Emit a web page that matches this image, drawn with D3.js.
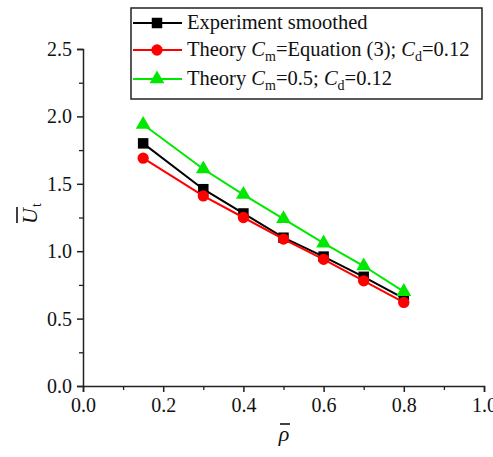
<!DOCTYPE html>
<html>
<head>
<meta charset="utf-8">
<script src="https://cdn.jsdelivr.net/npm/d3@7"></script>
<style>
body { margin: 0; background: #fff; }
svg text { font-family: "Liberation Serif", "Times New Roman", serif; fill: #111; }
</style>
</head>
<body>
<div id="chart"></div>
<script>
// data
var rho = [0.15, 0.3, 0.4, 0.5, 0.6, 0.7, 0.8];
var experiment = [1.80, 1.46, 1.28, 1.10, 0.96, 0.81, 0.65];
var theoryEq3 = [1.69, 1.41, 1.25, 1.09, 0.94, 0.78, 0.62];
var theoryHalf = [1.94, 1.61, 1.42, 1.24, 1.06, 0.89, 0.70];
var xTicks = [0, 0.2, 0.4, 0.6, 0.8, 1.0];
var yTicks = [0, 0.5, 1.0, 1.5, 2.0, 2.5];

var width = 493, height = 457;
var margin = { left: 83, right: 9, top: 49, bottom: 71 };
var serif = '"Liberation Serif", "Times New Roman", serif';

var svg = d3.select("#chart").append("svg")
    .attr("width", width)
    .attr("height", height);

var x = d3.scaleLinear().domain([0, 1]).range([margin.left, width - margin.right]);
var y = d3.scaleLinear().domain([0, 2.5]).range([height - margin.bottom, margin.top]);

// minor ticks
svg.append("g")
    .attr("transform", "translate(0," + y(0) + ")")
    .call(d3.axisBottom(x).tickValues(d3.range(0.1, 1, 0.2)).tickSize(4).tickFormat(""))
    .call(function (g) { g.select(".domain").remove(); })
    .selectAll("line").attr("stroke-width", 1.3).attr("stroke", "#222");
svg.append("g")
    .attr("transform", "translate(" + x(0) + ",0)")
    .call(d3.axisLeft(y).tickValues(d3.range(0.25, 2.5, 0.5)).tickSize(4).tickFormat(""))
    .call(function (g) { g.select(".domain").remove(); })
    .selectAll("line").attr("stroke-width", 1.3).attr("stroke", "#222");

// x axis
var xAxis = svg.append("g")
    .attr("transform", "translate(0," + y(0) + ")")
    .call(d3.axisBottom(x).tickValues(xTicks).tickSizeOuter(0).tickSize(6).tickPadding(6).tickFormat(d3.format(".1f")));
xAxis.attr("font-family", serif).attr("font-size", 20);
xAxis.select(".domain").attr("stroke-width", 1.5).attr("stroke", "#222");
xAxis.selectAll("line").attr("stroke-width", 1.5).attr("stroke", "#222");
xAxis.selectAll("text").style("font-family", serif).attr("fill", "#111");

// y axis
var yAxis = svg.append("g")
    .attr("transform", "translate(" + x(0) + ",0)")
    .call(d3.axisLeft(y).tickValues(yTicks).tickSizeOuter(0).tickSize(6).tickPadding(5).tickFormat(d3.format(".1f")));
yAxis.attr("font-family", serif).attr("font-size", 20);
yAxis.select(".domain").attr("stroke-width", 1.5).attr("stroke", "#222");
yAxis.selectAll("line").attr("stroke-width", 1.5).attr("stroke", "#222");
yAxis.selectAll("text").style("font-family", serif).attr("fill", "#111");

// axis titles
svg.append("text")
    .attr("x", 284).attr("y", 441)
    .attr("text-anchor", "middle")
    .style("font-size", "22px").style("font-style", "italic")
    .text("ρ");
svg.append("line")
    .attr("x1", 280).attr("x2", 290).attr("y1", 424).attr("y2", 424)
    .attr("stroke", "#111").attr("stroke-width", 1.6);

var yl = svg.append("g").attr("transform", "translate(37,216) rotate(-90)");
yl.append("text")
    .attr("x", 0).attr("y", 0)
    .attr("text-anchor", "middle")
    .style("font-size", "22px").style("font-style", "italic")
    .text("U");
yl.append("text")
    .attr("x", 9).attr("y", 4)
    .style("font-size", "14px")
    .text("t");
yl.append("line")
    .attr("x1", -7).attr("x2", 9).attr("y1", -20).attr("y2", -20)
    .attr("stroke", "#111").attr("stroke-width", 1.6);

var series = [
    { name: "exp", values: experiment, color: "#000000", marker: "square" },
    { name: "eq3", values: theoryEq3, color: "#ff0000", marker: "circle" },
    { name: "half", values: theoryHalf, color: "#00e800", marker: "triangle" }
];

var symbolFor = {
    square: d3.symbol().type(d3.symbolSquare).size(110),
    circle: d3.symbol().type(d3.symbolCircle).size(100),
    triangle: d3.symbol().type(d3.symbolTriangle).size(95)
};

var line = d3.line()
    .x(function (d, i) { return x(rho[i]); })
    .y(function (d) { return y(d); });

series.forEach(function (s) {
    svg.append("path")
        .attr("d", line(s.values))
        .attr("fill", "none")
        .attr("stroke", s.color)
        .attr("stroke-width", 2);
    svg.selectAll(".pt-" + s.name)
        .data(s.values)
        .enter().append("path")
        .attr("class", "pt-" + s.name)
        .attr("transform", function (d, i) { return "translate(" + x(rho[i]) + "," + y(d) + ")"; })
        .attr("d", symbolFor[s.marker])
        .attr("fill", s.color);
});

// legend
var legend = svg.append("g");
legend.append("rect")
    .attr("x", 131).attr("y", 8)
    .attr("width", 351).attr("height", 91)
    .attr("fill", "#fff")
    .attr("stroke", "#222").attr("stroke-width", 1.5);

var rowsY = [23, 50, 79];
var labels = [
    [{ t: "Experiment smoothed" }],
    [{ t: "Theory " }, { t: "C", i: true }, { t: "m", sub: true }, { t: "=Equation (3); " }, { t: "C", i: true }, { t: "d", sub: true }, { t: "=0.12" }],
    [{ t: "Theory " }, { t: "C", i: true }, { t: "m", sub: true }, { t: "=0.5; " }, { t: "C", i: true }, { t: "d", sub: true }, { t: "=0.12" }]
];

series.forEach(function (s, k) {
    var ry = rowsY[k];
    legend.append("line")
        .attr("x1", 133).attr("x2", 182).attr("y1", ry).attr("y2", ry)
        .attr("stroke", s.color).attr("stroke-width", 2);
    legend.append("path")
        .attr("transform", "translate(157," + ry + ")")
        .attr("d", symbolFor[s.marker])
        .attr("fill", s.color);
    var t = legend.append("text")
        .attr("x", 187).attr("y", ry + 6)
        .style("font-size", "20.5px");
    var wasSub = false;
    labels[k].forEach(function (p) {
        var ts = t.append("tspan").text(p.t);
        if (p.i) ts.style("font-style", "italic");
        if (p.sub) ts.style("font-size", "14px").attr("dy", 5);
        else if (wasSub) ts.attr("dy", -5);
        wasSub = !!p.sub;
    });
});
</script>
</body>
</html>
